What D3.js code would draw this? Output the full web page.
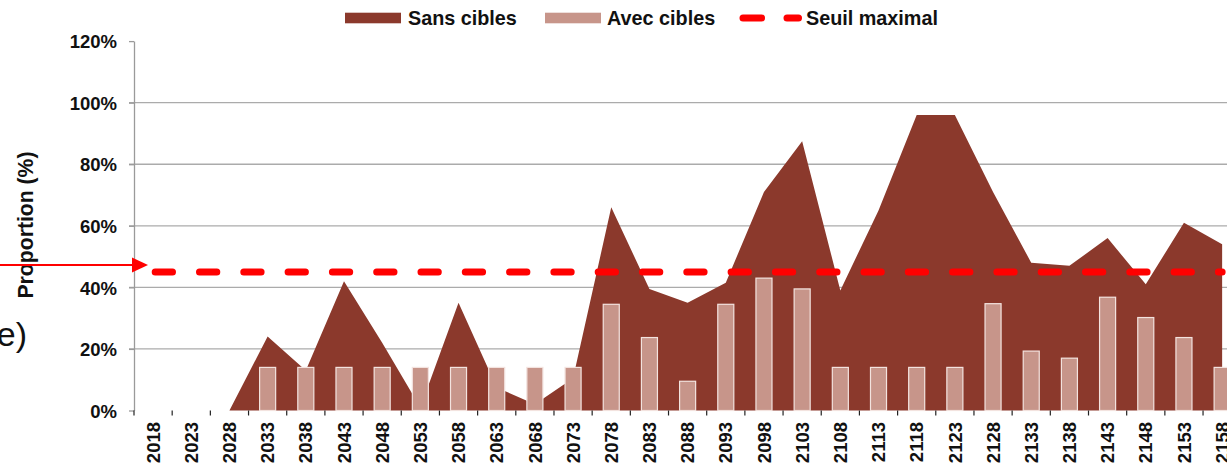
<!DOCTYPE html>
<html>
<head>
<meta charset="utf-8">
<script src="https://cdn.jsdelivr.net/npm/d3@7/dist/d3.min.js"></script>
<style>
  html, body { margin: 0; padding: 0; background: #fff; overflow: hidden; }
  svg { display: block; }
  text { font-family: "Liberation Sans", Arial, sans-serif; }
</style>
</head>
<body>
<svg id="chart" width="1227" height="467"></svg>
<script>
// Years shown on the category axis (one category every 5 years)
const years = ["2018","2023","2028","2033","2038","2043","2048","2053","2058","2063",
               "2068","2073","2078","2083","2088","2093","2098","2103","2108","2113",
               "2118","2123","2128","2133","2138","2143","2148","2153","2158"];

// Proportion (%) without targets — drawn as an area
const sansCibles = [0, 0, 0, 24, 13, 42, 22, 1, 35, 7.5,
                    2, 10.5, 66, 39.5, 35, 41.5, 71, 87.5, 39, 65,
                    96, 96, 71, 48, 47, 56, 41, 61, 54];

// Proportion (%) with targets — drawn as bars
const avecCibles = [0, 0, 0, 14, 14, 14, 14, 14, 14, 14,
                    14, 14, 34.5, 23.7, 9.5, 34.5, 43, 39.5, 14, 14,
                    14, 14, 34.7, 19.3, 17, 36.8, 30.2, 23.7, 14];

// Maximum threshold (%)
const seuilMaximal = 45;

const yTicks = [0, 20, 40, 60, 80, 100, 120];
const gridValues = [20, 40, 60, 80, 100];

const legendItems = ["Sans cibles", "Avec cibles", "Seuil maximal"];

const colDark = "#8B392C";
const colLight = "#C7958A";
const colRed = "#FF0000";

const svg = d3.select("#chart");
const W = 1227;

const plotLeft = 134, plotTop = 41.1, plotBottom = 410.5;
const band = 38.18;

const x = d3.scaleBand()
  .domain(years)
  .range([plotLeft, plotLeft + band * years.length])
  .paddingInner(0).paddingOuter(0);

const y = d3.scaleLinear().domain([0, 120]).range([plotBottom, plotTop]);

const cx = d => x(d) + x.bandwidth() / 2;

// Horizontal gridlines
svg.append("g")
  .selectAll("line")
  .data(gridValues)
  .join("line")
  .attr("x1", plotLeft - 5).attr("x2", W)
  .attr("y1", d => y(d)).attr("y2", d => y(d))
  .attr("stroke", "#ababab").attr("stroke-width", 1.3);

// Area: Sans cibles
const series = years.map((yr, i) => ({ yr, v: sansCibles[i], b: avecCibles[i] }));

svg.append("path")
  .datum(series)
  .attr("fill", colDark)
  .attr("d", d3.area()
    .x(d => cx(d.yr))
    .y0(y(0))
    .y1(d => y(d.v)));

// Bars: Avec cibles
const barW = x.bandwidth() * 0.42;
svg.append("g")
  .selectAll("rect")
  .data(series.filter(d => d.b > 0))
  .join("rect")
  .attr("x", d => cx(d.yr) - barW / 2)
  .attr("y", d => y(d.b))
  .attr("width", barW)
  .attr("height", d => y(0) - y(d.b))
  .attr("fill", colLight)
  .attr("stroke", "#f3e3df")
  .attr("stroke-width", 1.2);

// Dashed threshold line
svg.append("line")
  .attr("x1", cx(years[0]))
  .attr("x2", cx(years[years.length - 1]))
  .attr("y1", y(seuilMaximal)).attr("y2", y(seuilMaximal))
  .attr("stroke", colRed)
  .attr("stroke-width", 7)
  .attr("stroke-linecap", "round")
  .attr("stroke-dasharray", "17.3 27")
  .attr("stroke-dashoffset", -2.1);

// Y axis
const yAxis = d3.axisLeft(y)
  .tickValues(yTicks)
  .tickFormat(d => d + "%")
  .tickSize(5)
  .tickSizeOuter(0)
  .tickPadding(12);

const gy = svg.append("g")
  .attr("transform", `translate(${plotLeft},0)`)
  .call(yAxis);
gy.select(".domain").attr("stroke", "#9a9a9a").attr("stroke-width", 1.3);
gy.selectAll(".tick line").attr("stroke", "#9a9a9a").attr("stroke-width", 1.3);
gy.selectAll(".tick text")
  .attr("font-family", "'Liberation Sans', Arial, sans-serif")
  .attr("font-size", 18.5)
  .attr("font-weight", "bold")
  .attr("fill", "#111")
  .attr("dy", "0.36em");

// Category axis: boundary ticks
svg.append("g")
  .selectAll("line")
  .data(years)
  .join("line")
  .attr("x1", d => x(d)).attr("x2", d => x(d))
  .attr("y1", plotBottom).attr("y2", plotBottom + 5)
  .attr("stroke", "#222").attr("stroke-width", 1.2);

// Category labels, rotated
svg.append("g")
  .selectAll("text")
  .data(years)
  .join("text")
  .attr("transform", d => `translate(${cx(d)},${plotBottom + 11.5}) rotate(-90)`)
  .attr("text-anchor", "end")
  .attr("dy", "0.36em")
  .attr("font-size", 18.5)
  .attr("font-weight", "bold")
  .attr("fill", "#111")
  .text(d => d);

// Y axis title
svg.append("text")
  .attr("transform", "translate(33,225) rotate(-90)")
  .attr("text-anchor", "middle")
  .attr("font-size", 22)
  .attr("font-weight", "bold")
  .attr("fill", "#111")
  .attr("textLength", 147)
  .attr("lengthAdjust", "spacingAndGlyphs")
  .text("Proportion (%)");

// Panel letter
svg.append("text")
  .attr("x", 27).attr("y", 346)
  .attr("text-anchor", "end")
  .attr("font-size", 34)
  .attr("fill", "#111")
  .text("e)");

// Red pointer arrow towards the threshold
const arrowY = 265;
svg.append("line")
  .attr("x1", 0).attr("x2", 134)
  .attr("y1", arrowY).attr("y2", arrowY)
  .attr("stroke", colRed).attr("stroke-width", 2);
svg.append("path")
  .attr("d", `M132,${arrowY - 7.5} L148,${arrowY} L132,${arrowY + 7.5} Z`)
  .attr("fill", colRed);

// Legend
const lg = svg.append("g");
const legY = 18;
lg.append("rect").attr("x", 345).attr("y", 12.7).attr("width", 56).attr("height", 10.6).attr("fill", colDark);
lg.append("rect").attr("x", 545).attr("y", 12.7).attr("width", 56).attr("height", 10.6).attr("fill", colLight);
lg.append("line").attr("x1", 743).attr("x2", 761.5).attr("y1", legY).attr("y2", legY)
  .attr("stroke", colRed).attr("stroke-width", 7).attr("stroke-linecap", "round");
lg.append("line").attr("x1", 787).attr("x2", 798.5).attr("y1", legY).attr("y2", legY)
  .attr("stroke", colRed).attr("stroke-width", 7).attr("stroke-linecap", "round");

const legX = [408, 607, 806];
lg.selectAll("text.leg")
  .data(legendItems)
  .join("text")
  .attr("class", "leg")
  .attr("x", (d, i) => legX[i])
  .attr("y", 25)
  .attr("font-size", 19.8)
  .attr("font-weight", "bold")
  .attr("fill", "#111")
  .text(d => d);
</script>
</body>
</html>
